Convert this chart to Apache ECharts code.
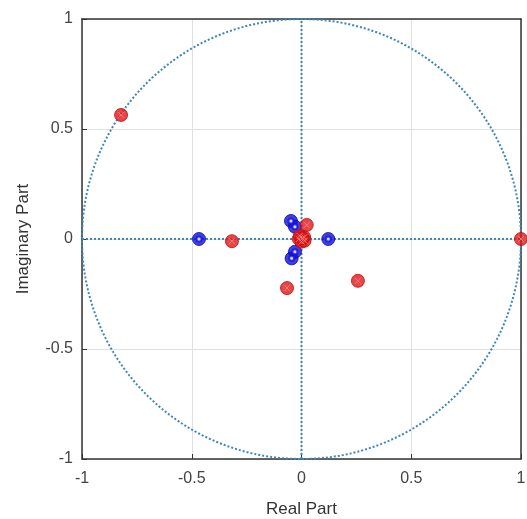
<!DOCTYPE html>
<html><head><meta charset="utf-8">
<script src="https://cdn.jsdelivr.net/npm/echarts@6/dist/echarts.min.js"></script>
<style>html,body{margin:0;padding:0;background:#fff}#c{width:527px;height:519px}</style>
</head><body><div id="c"></div>
<script>
var tickValues = [-1, -0.5, 0, 0.5, 1];
var tickLabels = ['-1', '-0.5', '0', '0.5', '1'];
var zerosBlue = [[-0.467, 0], [0.122, 0], [-0.048, 0.082], [-0.03, 0.056], [-0.045, -0.088], [-0.03, -0.058]];
var polesRed = [[-0.822, 0.564], [-0.317, -0.01], [0.257, -0.19], [-0.066, -0.223], [1.0, 0], [0.024, 0.064],
  [-0.012, 0.0], [0.012, 0.008], [0.0, -0.012], [0.014, -0.008], [-0.008, 0.014], [0.004, 0.004]];

var circle = [];
for (var i = 0; i <= 360; i++) { var a = i * Math.PI / 180; circle.push([Math.cos(a), Math.sin(a)]); }

var dotColor = '#3b86bb';
var font = 'Liberation Sans, Arial, sans-serif';
var chart = echarts.init(document.getElementById('c'));
function axis(name, gap, margin) {
  return {
    type: 'value', min: -1, max: 1, interval: 0.5, name: name, nameLocation: 'middle', nameGap: gap,
    nameTextStyle: { fontSize: 17, color: '#333', fontFamily: font },
    axisLine: { show: true, onZero: false, lineStyle: { color: '#333', width: 1.5 } },
    axisTick: { show: true, inside: true, length: 5, lineStyle: { color: '#333' } },
    axisLabel: { fontSize: 16, margin: margin, color: '#444', fontFamily: font, formatter: function (v) { var k = tickValues.indexOf(v); return k >= 0 ? tickLabels[k] : ''; } },
    splitLine: { show: true, lineStyle: { color: '#e0e0e0', width: 1 } }
  };
}
var xA = axis('Real Part', 42, 12), yA = axis('Imaginary Part', 50, 9);
var xTop = { type: 'value', min: -1, max: 1, position: 'top', axisLine: { show: true, onZero: false, lineStyle: { color: '#333', width: 1.5 } }, axisTick: { show: false }, axisLabel: { show: false }, splitLine: { show: false } };
var yRight = { type: 'value', min: -1, max: 1, position: 'right', axisLine: { show: true, onZero: false, lineStyle: { color: '#333', width: 1.5 } }, axisTick: { show: false }, axisLabel: { show: false }, splitLine: { show: false } };
var xMark = 'path://M-1,-1L1,1M-1,1L1,-1';
chart.setOption({
  animation: false,
  grid: { left: 82, right: 6, top: 19, bottom: 60, containLabel: false, outerBoundsMode: 'none' },
  xAxis: [xA, xTop],
  yAxis: [yA, yRight],
  series: [
    { type: 'line', data: circle, showSymbol: false, lineStyle: { type: 'dotted', width: 2, color: dotColor }, silent: true, z: 2 },
    { type: 'line', data: [[-1, 0], [1, 0]], showSymbol: false, lineStyle: { type: 'dotted', width: 2, color: dotColor }, silent: true, z: 2 },
    { type: 'line', data: [[0, -1], [0, 1]], showSymbol: false, lineStyle: { type: 'dotted', width: 2, color: dotColor }, silent: true, z: 2 },
    { type: 'scatter', data: zerosBlue, symbol: 'circle', symbolSize: 13, itemStyle: { color: '#1010d8', borderColor: '#0808b0', borderWidth: 1 }, z: 5 },
    { type: 'scatter', data: zerosBlue, symbol: 'emptyCircle', symbolSize: 5, itemStyle: { color: '#1010d8', borderColor: '#7070e8', borderWidth: 1 }, z: 6, silent: true },
    { type: 'scatter', data: polesRed, symbol: 'circle', symbolSize: 13, itemStyle: { color: '#e01818', borderColor: '#c00c0c', borderWidth: 1 }, z: 7 },
    { type: 'scatter', data: polesRed, symbol: xMark, symbolSize: 6, itemStyle: { color: 'none', borderColor: '#f08888', borderWidth: 1 }, z: 8, silent: true }
  ]
});
</script></body></html>
